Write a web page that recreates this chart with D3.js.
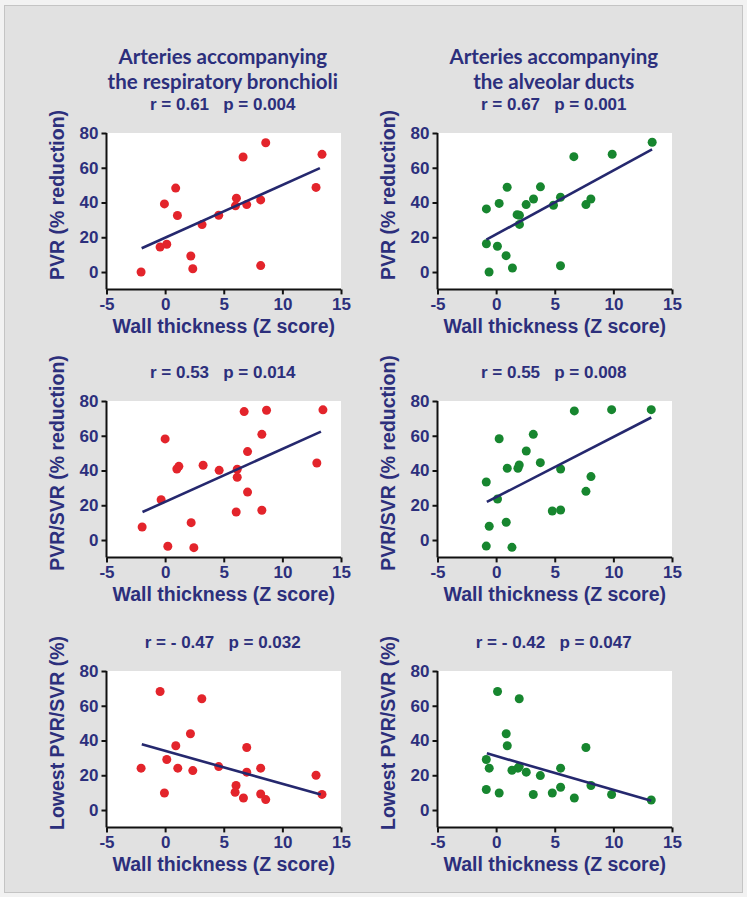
<!DOCTYPE html>
<html>
<head>
<meta charset="utf-8">
<script src="https://cdn.jsdelivr.net/npm/d3@7"></script>
<style>
  html, body { margin: 0; padding: 0; background: #f2f2f2; }
  svg { display: block; }
</style>
</head>
<body>
<svg id="chart" width="747" height="897"></svg>
<script>
// ---------- data ----------
const xTicks = [-5, 0, 5, 10, 15];
const yTicks = [0, 20, 40, 60, 80];
const columnTitles = [
  ["Arteries accompanying", "the respiratory bronchioli"],
  ["Arteries accompanying", "the alveolar ducts"]
];
const yLabels = ["PVR (% reduction)", "PVR/SVR (% reduction)", "Lowest PVR/SVR (%)"];
const xLabel = "Wall thickness (Z score)";
const statLabels = [
  ["r = 0.61   p = 0.004", "r = 0.67   p = 0.001"],
  ["r = 0.53   p = 0.014", "r = 0.55   p = 0.008"],
  ["r = - 0.47   p = 0.032", "r = - 0.42   p = 0.047"]
];

// Row 1 – PVR (% reduction)
const rbPvrX = [-2.05, -0.43, 0.14, -0.06, 0.9, 1.05, 3.15, 2.19, 2.36, 4.57, 6.08, 6.0, 6.96, 6.65, 8.58, 8.15, 8.15, 12.87, 13.38];
const rbPvrY = [0, 14.4, 16, 39.2, 48.3, 32.5, 27.3, 9.2, 1.9, 32.7, 42.5, 38.1, 38.8, 66.2, 74.4, 41.5, 3.7, 48.7, 67.7];
const adPvrX = [-0.83, -0.83, -0.6, 0.11, 0.26, 0.94, 0.85, 1.39, 1.79, 1.99, 1.99, 2.56, 3.19, 3.78, 4.89, 5.49, 5.49, 6.63, 7.66, 8.08, 9.9, 13.31];
const adPvrY = [36.3, 16.3, 0, 14.8, 39.5, 48.8, 9.4, 2.3, 33, 32.6, 27.4, 38.8, 42, 49, 38.4, 43, 3.6, 66.4, 38.8, 42, 67.8, 74.7];

// Row 2 – PVR/SVR (% reduction)
const rbRatioX = [-1.96, -0.34, 0, 0.23, 1.0, 1.17, 2.22, 2.45, 3.24, 4.61, 6.06, 6.15, 6.15, 6.74, 7.03, 7.03, 8.25, 8.25, 8.65, 12.94, 13.46];
const rbRatioY = [7.5, 23.2, 58.2, -3.6, 40.9, 42.4, 10, -4.4, 43, 40.1, 16.1, 40.7, 36.1, 73.9, 50.9, 27.6, 60.8, 17.1, 74.7, 44.3, 74.9];
const adRatioX = [-0.84, 0.12, -0.59, -0.84, 0.26, 0.86, 0.95, 1.35, 1.86, 1.97, 2.57, 3.17, 3.77, 4.79, 5.5, 5.5, 6.67, 7.66, 8.09, 9.85, 13.23];
const adRatioY = [33.4, 23.6, 7.9, -3.5, 58.3, 10.2, 41.3, -4.2, 41.3, 43.2, 51.2, 60.8, 44.5, 16.7, 17.3, 40.9, 74.3, 28, 36.5, 75, 75];

// Row 3 – Lowest PVR/SVR (%)
const rbLowX = [-2.05, -0.43, -0.06, 0.14, 0.91, 1.08, 2.16, 2.36, 3.13, 4.57, 6.05, 5.97, 6.68, 6.96, 6.96, 8.15, 8.15, 8.58, 12.87, 13.38];
const rbLowY = [24.1, 68.2, 9.8, 29.1, 37, 24.1, 43.9, 22.7, 64, 25, 14.1, 10.2, 6.9, 36, 21.8, 24.1, 9.2, 6, 20, 9];
const adLowX = [0.12, 1.97, 0.86, 0.95, -0.84, -0.59, 1.35, 1.86, 1.97, 2.57, 3.77, 5.5, 7.66, -0.84, 0.26, 3.17, 4.79, 5.5, 6.67, 8.09, 9.85, 13.23];
const adLowY = [68.2, 64, 43.9, 37, 29.1, 24.1, 22.9, 24.1, 25, 21.8, 19.8, 24.1, 36, 11.8, 9.8, 8.9, 9.8, 13.1, 6.9, 14.1, 8.9, 5.8];

// regression lines [x1, y1, x2, y2]
const fitLines = [
  [[-2.0, 13.7, 13.2, 59.8], [-0.83, 18.6, 13.3, 70.6]],
  [[-1.93, 16.1, 13.29, 62.4], [-0.79, 21.9, 13.23, 70.5]],
  [[-1.99, 37.8, 13.27, 8.9], [-0.79, 32.6, 13.23, 5.4]]
];

const seriesX = [[rbPvrX, adPvrX], [rbRatioX, adRatioX], [rbLowX, adLowX]];
const seriesY = [[rbPvrY, adPvrY], [rbRatioY, adRatioY], [rbLowY, adLowY]];
const dotColors = ["#e3242b", "#17862f"];

// ---------- layout ----------
const navy = "#2c2f7c";
const svg = d3.select("#chart");
svg.append("rect").attr("x", 4.5).attr("y", 5.5).attr("width", 738).attr("height", 887)
  .attr("fill", "#e1e1e1").attr("stroke", "#c4c4c4").attr("stroke-width", 1);

const colLeft = [106.5, 437.5];
const plotW = 234.5;
const rowTop = [133, 401, 671];
const plotH = 156.4;

// column titles
columnTitles.forEach((lines, c) => {
  lines.forEach((t, i) => {
    svg.append("text")
      .attr("x", colLeft[c] + plotW / 2 - 1)
      .attr("y", 57 + i * 25)
      .attr("dy", "0.35em")
      .attr("text-anchor", "middle")
      .attr("font-family", "Lato, 'Open Sans', sans-serif")
      .attr("font-weight", "bold")
      .attr("font-size", "20.5px")
      .attr("fill", navy)
      .text(t);
  });
});

for (let r = 0; r < 3; r++) {
  for (let c = 0; c < 2; c++) {
    const x = d3.scaleLinear().domain([-5, 15]).range([colLeft[c], colLeft[c] + plotW]);
    const y = d3.scaleLinear().domain([-10, 80]).range([rowTop[r] + plotH, rowTop[r]]);
    const g = svg.append("g");

    g.append("rect")
      .attr("x", x(-5)).attr("y", y(80))
      .attr("width", x(15) - x(-5)).attr("height", y(-10) - y(80))
      .attr("fill", "#ffffff");

    // stats label
    g.append("text")
      .attr("x", x(5) - 1)
      .attr("y", rowTop[r] - 28.5)
      .attr("dy", "0.35em")
      .attr("text-anchor", "middle")
      .attr("font-family", "'Liberation Sans', Arial, sans-serif")
      .attr("font-weight", "bold")
      .attr("font-size", "17px")
      .attr("fill", navy)
      .style("white-space", "pre")
      .text(statLabels[r][c]);

    // axes
    const xAxis = d3.axisBottom(x).tickValues(xTicks).tickSize(5).tickSizeOuter(0).tickPadding(4)
      .tickFormat(d => String(d));
    const yAxis = d3.axisLeft(y).tickValues(yTicks).tickSize(5).tickSizeOuter(0).tickPadding(3)
      .tickFormat(d => String(d));

    const gx = g.append("g").attr("transform", `translate(0,${y(-10)})`).call(xAxis);
    const gy = g.append("g").attr("transform", `translate(${x(-5)},0)`).call(yAxis);
    [gx, gy].forEach(ax => {
      ax.select(".domain").attr("stroke", "#111").attr("stroke-width", 2);
      ax.selectAll(".tick line").attr("stroke", "#111").attr("stroke-width", 2);
      ax.selectAll(".tick text")
        .attr("font-family", "'Liberation Sans', Arial, sans-serif")
        .attr("font-weight", "bold")
        .attr("font-size", "17px")
        .attr("fill", navy);
    });
    gx.select(".domain").attr("d", `M${x(-5)},0H${x(15)}`);
    gy.select(".domain").attr("d", `M0,${y(80)}V${y(-10)}`);

    // axis titles
    g.append("text")
      .attr("x", x(5))
      .attr("y", y(-10) + 36.5)
      .attr("dy", "0.35em")
      .attr("text-anchor", "middle")
      .attr("font-family", "'Liberation Sans', Arial, sans-serif")
      .attr("font-weight", "bold")
      .attr("font-size", "19.5px")
      .attr("fill", navy)
      .text(xLabel);

    const yc = rowTop[r] + 62;
    g.append("text")
      .attr("transform", `translate(${x(-5) - 49},${yc}) rotate(-90)`)
      .attr("dy", "0.35em")
      .attr("text-anchor", "middle")
      .attr("font-family", "'Liberation Sans', Arial, sans-serif")
      .attr("font-weight", "bold")
      .attr("font-size", "19.5px")
      .attr("fill", navy)
      .text(yLabels[r]);

    // points
    const xs = seriesX[r][c], ys = seriesY[r][c];
    g.selectAll("circle.pt").data(xs.map((v, i) => [v, ys[i]])).enter()
      .append("circle")
      .attr("class", "pt")
      .attr("cx", d => x(d[0]))
      .attr("cy", d => y(d[1]))
      .attr("r", 4.5)
      .attr("fill", dotColors[c]);

    // regression line
    const f = fitLines[r][c];
    g.append("line")
      .attr("x1", x(f[0])).attr("y1", y(f[1]))
      .attr("x2", x(f[2])).attr("y2", y(f[3]))
      .attr("stroke", "#25286e").attr("stroke-width", 2.6);
  }
}
</script>
</body>
</html>
